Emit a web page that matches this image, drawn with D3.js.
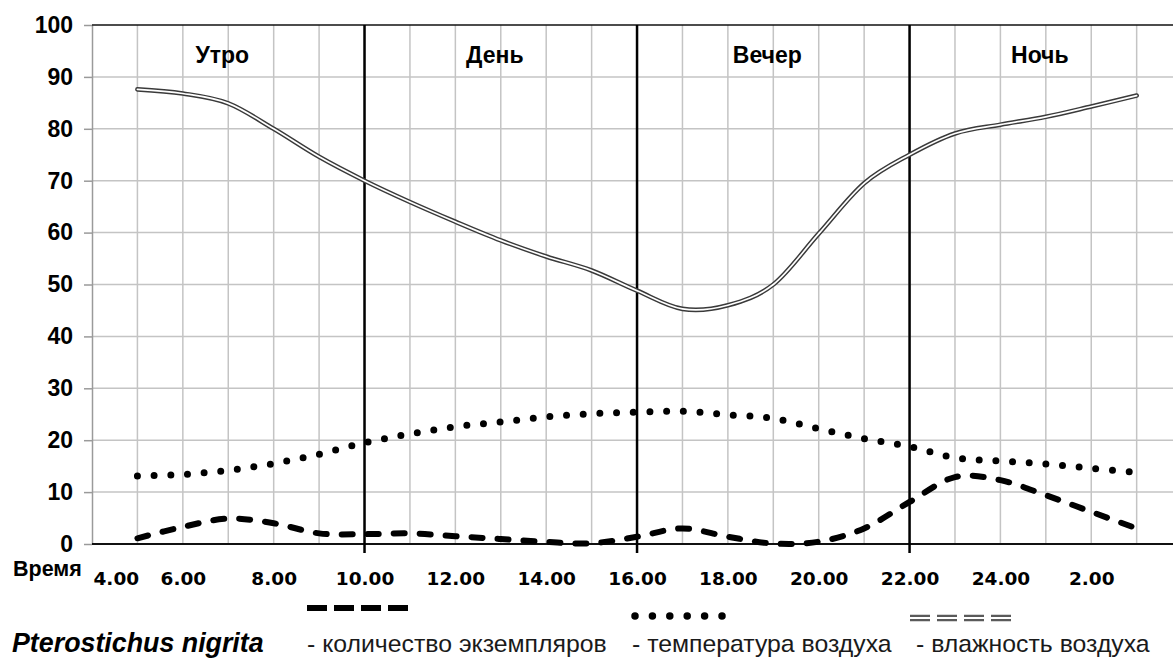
<!DOCTYPE html>
<html>
<head>
<meta charset="utf-8">
<script src="https://cdn.jsdelivr.net/npm/d3@7"></script>
<style>
  body { margin: 0; background: #fff; }
  svg { display: block; font-family: "Liberation Sans", Arial, sans-serif; }
</style>
</head>
<body>
<svg id="chart" width="1173" height="659"></svg>
<script>
// hours of observation (after 24 the clock wraps: 25 = 1.00, 26 = 2.00 ...)
const hours = [5, 6, 7, 8, 9, 10, 11, 12, 13, 14, 15, 16, 17, 18, 19, 20, 21, 22, 23, 24, 25, 26, 27];
// Pterostichus nigrita - number of specimens
const countValues = [1.1, 3.3, 4.9, 4.0, 2.05, 1.9, 2.05, 1.5, 0.96, 0.4, 0.15, 1.4, 3.0, 1.4, 0.1, 0.45, 3.0, 8.1, 12.9, 12.3, 9.4, 6.2, 3.0];
// air temperature
const tempValues = [13.1, 13.4, 14.2, 15.5, 17.3, 19.5, 21.2, 22.6, 23.5, 24.5, 25.1, 25.4, 25.6, 24.9, 24.2, 22.2, 20.3, 18.8, 16.6, 16.0, 15.4, 14.6, 13.8];
// air humidity
const humidValues = [87.6, 86.8, 84.9, 80.0, 74.6, 70.0, 65.9, 62.1, 58.5, 55.4, 52.7, 48.8, 45.3, 46.0, 50.0, 59.8, 69.5, 75.0, 79.1, 80.8, 82.3, 84.3, 86.4];

const xTickHours = [4, 6, 8, 10, 12, 14, 16, 18, 20, 22, 24, 26];
const xTickLabels = ['4.00', '6.00', '8.00', '10.00', '12.00', '14.00', '16.00', '18.00', '20.00', '22.00', '24.00', '2.00'];
const yTicks = [0, 10, 20, 30, 40, 50, 60, 70, 80, 90, 100];

const periodBounds = [10, 16, 22];
const periodNames = ['Утро', 'День', 'Вечер', 'Ночь'];
const periodCenters = [7, 13, 19, 25];

const legendTexts = ['- количество экземпляров', '- температура воздуха', '- влажность воздуха'];

const svg = d3.select('#chart');

// scales
const x = d3.scaleLinear().domain([4, 27.8]).range([92, 1173]);
const y = d3.scaleLinear().domain([0, 100]).range([544, 25]);

// grid
const grid = svg.append('g').attr('class', 'grid')
    .attr('stroke', '#c4c4c4').attr('stroke-width', 1.5);
grid.selectAll('.vgrid')
    .data(d3.range(5, 28))
    .join('line')
    .attr('class', 'vgrid')
    .attr('x1', d => x(d)).attr('x2', d => x(d))
    .attr('y1', y(100)).attr('y2', y(0));
grid.selectAll('.hgrid')
    .data(yTicks.slice(1, -1))
    .join('line')
    .attr('class', 'hgrid')
    .attr('x1', x(4)).attr('x2', x.range()[1])
    .attr('y1', d => y(d)).attr('y2', d => y(d));

// y axis (gray, like the original)
const yAxis = d3.axisLeft(y).tickValues(yTicks).tickSize(8).tickSizeOuter(0).tickPadding(11);
const gy = svg.append('g').attr('class', 'y-axis')
    .attr('transform', `translate(${x(4)},0)`)
    .call(yAxis);
gy.select('.domain').attr('stroke', '#9a9a9a').attr('stroke-width', 1.5);
gy.selectAll('.tick line').attr('stroke', '#9a9a9a').attr('stroke-width', 1.5);
gy.selectAll('.tick text')
    .attr('fill', '#000')
    .style('font-family', '"Liberation Sans", Arial, sans-serif')
    .style('font-size', '23px')
    .style('font-weight', 'bold');

// top border and x axis line
svg.append('line')
    .attr('x1', x(4)).attr('x2', x.range()[1])
    .attr('y1', y(100)).attr('y2', y(100))
    .attr('stroke', '#111').attr('stroke-width', 1.5);
svg.append('line')
    .attr('x1', x(4)).attr('x2', x.range()[1])
    .attr('y1', y(0)).attr('y2', y(0))
    .attr('stroke', '#111').attr('stroke-width', 2);

// period separators
svg.selectAll('.sep')
    .data(periodBounds)
    .join('line')
    .attr('class', 'sep')
    .attr('x1', d => x(d)).attr('x2', d => x(d))
    .attr('y1', y(100)).attr('y2', y(0) + 9)
    .attr('stroke', '#000').attr('stroke-width', 2.5);

svg.selectAll('.period')
    .data(periodNames)
    .join('text')
    .attr('class', 'period')
    .attr('x', (d, i) => x(periodCenters[i]) - 6)
    .attr('y', 63)
    .attr('text-anchor', 'middle')
    .style('font-size', '23px')
    .style('font-weight', 'bold')
    .text(d => d);

// x tick labels
const xAxis = d3.axisBottom(x).tickValues(xTickHours)
    .tickFormat((d, i) => xTickLabels[i]).tickSize(0).tickPadding(0);
const gx = svg.append('g').attr('class', 'x-axis')
    .attr('transform', `translate(0,${y(0)})`)
    .call(xAxis);
gx.select('.domain').remove();
gx.selectAll('.tick text')
    .attr('y', 41).attr('dy', 0)
    .attr('fill', '#000')
    .style('font-family', '"DejaVu Sans", Verdana, sans-serif')
    .style('font-size', '18.5px')
    .style('font-weight', 'bold');
gx.selectAll('.tick text').filter((d, i) => i === 0)
    .attr('text-anchor', 'start').attr('x', 1);

svg.append('text')
    .attr('x', 13).attr('y', 576)
    .style('font-size', '21.5px')
    .style('font-weight', 'bold')
    .text('Время');

// series
const lineGen = (vals) => d3.line()
    .x((d, i) => x(hours[i]))
    .y(d => y(d))
    .curve(d3.curveCardinal.tension(0))(vals);

// humidity - double line
svg.append('path')
    .attr('d', lineGen(humidValues))
    .attr('fill', 'none').attr('stroke', '#3a3a3a').attr('stroke-width', 4.6)
    .attr('stroke-linecap', 'round');
svg.append('path')
    .attr('d', lineGen(humidValues))
    .attr('fill', 'none').attr('stroke', '#fff').attr('stroke-width', 1.7)
    .attr('stroke-linecap', 'round');

// temperature - round dots
svg.append('path')
    .attr('d', lineGen(tempValues))
    .attr('fill', 'none').attr('stroke', '#000').attr('stroke-width', 7)
    .attr('stroke-linecap', 'round')
    .attr('stroke-dasharray', '0 16.7');

// number of specimens - round dashes
svg.append('path')
    .attr('d', lineGen(countValues))
    .attr('fill', 'none').attr('stroke', '#000').attr('stroke-width', 6)
    .attr('stroke-linecap', 'round')
    .attr('stroke-dasharray', '11 15');

// legend
const legend = svg.append('g').attr('class', 'legend');
legend.append('line')
    .attr('x1', 307).attr('x2', 408).attr('y1', 608).attr('y2', 608)
    .attr('stroke', '#000').attr('stroke-width', 6)
    .attr('stroke-dasharray', '20 7');
legend.append('line')
    .attr('x1', 635).attr('x2', 722).attr('y1', 616).attr('y2', 616)
    .attr('stroke', '#000').attr('stroke-width', 7.5)
    .attr('stroke-linecap', 'round')
    .attr('stroke-dasharray', '0 17.4');
legend.append('line')
    .attr('x1', 910).attr('x2', 1012).attr('y1', 618).attr('y2', 618)
    .attr('stroke', '#5a5a5a').attr('stroke-width', 6.5)
    .attr('stroke-dasharray', '20 7');
legend.append('line')
    .attr('x1', 910).attr('x2', 1012).attr('y1', 618).attr('y2', 618)
    .attr('stroke', '#fff').attr('stroke-width', 2)
    .attr('stroke-dasharray', '20 7');

legend.append('text')
    .attr('x', 12).attr('y', 652)
    .style('font-size', '26.8px')
    .style('font-weight', 'bold')
    .style('font-style', 'italic')
    .text('Pterostichus nigrita');

const legendX = [307, 632, 916];
legend.selectAll('.ltext')
    .data(legendTexts)
    .join('text')
    .attr('class', 'ltext')
    .attr('x', (d, i) => legendX[i])
    .attr('y', 652)
    .attr('fill', '#1a1a1a')
    .style('font-size', '24.8px')
    .text(d => d);
</script>
</body>
</html>
